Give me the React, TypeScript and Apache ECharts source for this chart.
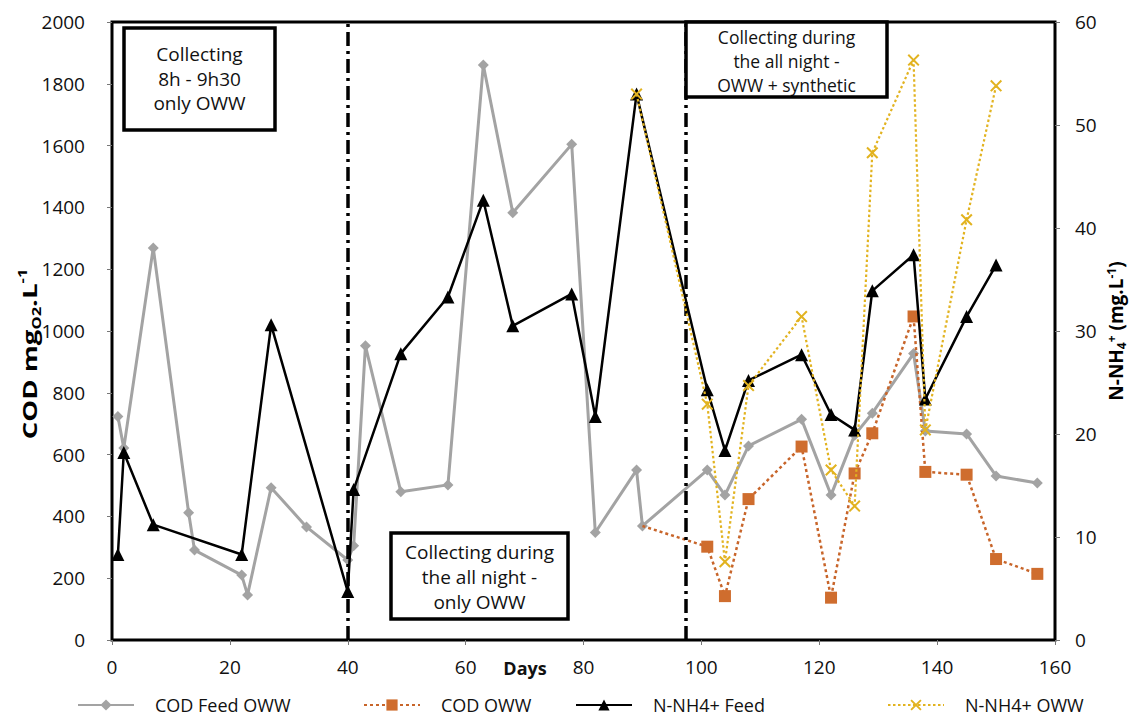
import React, { useEffect, useRef } from "react";
import * as echarts from "echarts";

const codFeedDays = [1, 2, 7, 13, 14, 22, 23, 27, 33, 40, 41, 43, 49, 57, 63, 68, 78, 82, 89, 90, 101, 104, 108, 117, 122, 126, 129, 136, 138, 145, 150, 157];
const codFeedVals = [723, 621, 1269, 412, 291, 210, 146, 493, 366, 259, 305, 952, 480, 502, 1861, 1383, 1604, 348, 550, 369, 550, 469, 628, 714, 469, 663, 734, 927, 676, 667, 531, 508];

const codOwwDays = [90, 101, 104, 108, 117, 122, 126, 129, 136, 138, 145, 150, 157];
const codOwwVals = [369, 302, 142, 456, 626, 137, 539, 669, 1047, 544, 535, 262, 214];

const nFeedDays = [1, 2, 7, 22, 27, 40, 41, 49, 57, 63, 68, 78, 82, 89, 101, 104, 108, 117, 122, 126, 129, 136, 138, 145, 150];
const nFeedVals = [8.3, 18.2, 11.2, 8.3, 30.6, 4.7, 14.6, 27.8, 33.3, 42.7, 30.5, 33.6, 21.7, 53.0, 24.3, 18.4, 25.2, 27.7, 21.9, 20.4, 33.9, 37.4, 23.4, 31.4, 36.4];

const nOwwDays = [89, 101, 104, 108, 117, 122, 126, 129, 136, 138, 145, 150];
const nOwwVals = [53.0, 22.9, 7.6, 24.7, 31.4, 16.5, 13.0, 47.3, 56.3, 20.4, 40.8, 53.8];

const phaseDays = [40, 97.3];

const seriesNames = ["COD Feed OWW", "COD OWW", "N-NH4+ Feed", "N-NH4+ OWW"];

const boxTexts = [
  "Collecting\n8h - 9h30\nonly OWW",
  "Collecting during\nthe all night -\nonly OWW",
  "Collecting during\nthe all night -\nOWW + synthetic",
];

const leftTitle = "{b|COD mg}{sub|O2}{b|.L}{sup|-1}";
const rightTitle = "{b|N-NH}{sub|4}{sup|+}{b| (mg.L}{sup|-1}{b|)}";
const xTitle = "Days";

const pair = (xs: number[], ys: number[]) => xs.map((x, i) => [x, ys[i]]);

const FONT = "'Open Sans', 'DejaVu Sans', sans-serif";
const XSYM = "path://M0,1.2 L1.2,0 L5,3.8 L8.8,0 L10,1.2 L6.2,5 L10,8.8 L8.8,10 L5,6.2 L1.2,10 L0,8.8 L3.8,5 Z";

export default function App() {
  const ref = useRef<HTMLDivElement>(null);
  useEffect(() => {
    if (!ref.current) return;
    const chart = echarts.init(ref.current, undefined, { renderer: "svg" });
    const tickLabel = { fontFamily: FONT, fontSize: 19, color: "#111", formatter: (v: number) => String(v) };
    const legendBase = {
      top: 691,
      itemWidth: 56,
      itemHeight: 14,
      textStyle: { fontFamily: FONT, fontSize: 18, color: "#111", padding: [0, 0, 0, 16] },
      selectedMode: false,
    };
    const rich = (fs: number, lh: number) => ({
      b: { fontFamily: FONT, fontSize: fs, fontWeight: "bold", color: "#111", lineHeight: lh },
      sub: { fontFamily: FONT, fontSize: Math.round(fs * 0.62), fontWeight: "bold", color: "#111", lineHeight: 12, verticalAlign: "bottom" },
      sup: { fontFamily: FONT, fontSize: Math.round(fs * 0.62), fontWeight: "bold", color: "#111", lineHeight: 12, verticalAlign: "top" },
    });
    const boxes = [
      { x: 124, y: 28, w: 151, h: 102, ty: 42, lh: 24.5, fs: 19, t: boxTexts[0] },
      { x: 391, y: 533, w: 177, h: 86, ty: 539, lh: 25, fs: 19, t: boxTexts[1] },
      { x: 686, y: 22, w: 201, h: 75, ty: 25, lh: 24, fs: 17.5, t: boxTexts[2] },
    ];
    const graphics: any[] = [];
    boxes.forEach((b) => {
      graphics.push({
        type: "rect",
        z: 10,
        shape: { x: b.x, y: b.y, width: b.w, height: b.h },
        style: { fill: "#fff", stroke: "none" },
      });
      graphics.push({
        type: "text",
        z: 11,
        x: b.x + b.w / 2,
        y: b.ty,
        style: {
          text: b.t,
          fontFamily: FONT,
          fontSize: b.fs,
          lineHeight: b.lh,
          fill: "#111",
          align: "center",
          verticalAlign: "top",
        },
      });
      graphics.push({
        type: "rect",
        z: 12,
        shape: { x: b.x, y: b.y, width: b.w, height: b.h },
        style: { fill: "none", stroke: "#000", lineWidth: 3.5 },
      });
    });
    graphics.push({
      type: "text",
      x: 525,
      y: 668,
      style: {
        text: xTitle,
        fontFamily: FONT,
        fontSize: 18,
        fontWeight: "bold",
        fill: "#111",
        align: "center",
        verticalAlign: "middle",
      },
    });
    graphics.push({
      type: "text",
      x: 29,
      y: 354,
      rotation: Math.PI / 2,
      scaleX: 1.38,
      style: {
        text: leftTitle,
        rich: rich(20, 26),
        align: "center",
        verticalAlign: "middle",
      },
    });
    graphics.push({
      type: "text",
      x: 1116,
      y: 331,
      rotation: Math.PI / 2,
      style: {
        text: rightTitle,
        rich: rich(19, 22),
        align: "center",
        verticalAlign: "middle",
      },
    });

    const codOwwData = codOwwDays.map((d, i) =>
      i === 0 ? { value: [d, codOwwVals[i]], symbol: "none" } : [d, codOwwVals[i]]
    );

    chart.setOption({
      animation: false,
      backgroundColor: "#fff",
      grid: {
        left: 112,
        right: 77,
        top: 22,
        bottom: 78,
        containLabel: false,
        outerBoundsMode: "none",
        show: true,
        borderColor: "#000",
        borderWidth: 3,
      },
      legend: [
        { ...legendBase, left: 72, data: [seriesNames[0]] },
        { ...legendBase, left: 358, data: [seriesNames[1]] },
        { ...legendBase, left: 570, data: [seriesNames[2]] },
        { ...legendBase, left: 882, data: [seriesNames[3]] },
      ],
      xAxis: {
        type: "value",
        min: 0,
        max: 160,
        interval: 20,
        splitLine: { show: false },
        axisLine: { show: true, lineStyle: { color: "#000", width: 2 } },
        axisTick: { show: true, length: 5, lineStyle: { color: "#777" } },
        axisLabel: { ...tickLabel, margin: 17 },
      },
      yAxis: [
        {
          type: "value",
          min: 0,
          max: 2000,
          interval: 200,
          splitLine: { show: false },
          axisLine: { show: true, onZero: false, lineStyle: { color: "#000", width: 2 } },
          axisTick: { show: true, length: 5, lineStyle: { color: "#777" } },
          axisLabel: { ...tickLabel, margin: 27 },
        },
        {
          type: "value",
          min: 0,
          max: 60,
          interval: 10,
          position: "right",
          splitLine: { show: false },
          axisLine: { show: true, onZero: false, lineStyle: { color: "#000", width: 2 } },
          axisTick: { show: true, length: 5, lineStyle: { color: "#777" } },
          axisLabel: { ...tickLabel, margin: 20 },
        },
      ],
      series: [
        {
          name: seriesNames[0],
          type: "line",
          yAxisIndex: 0,
          data: pair(codFeedDays, codFeedVals),
          symbol: "diamond",
          symbolSize: 11,
          itemStyle: { color: "#a3a3a3" },
          lineStyle: { color: "#a3a3a3", width: 3 },
          z: 2,
          markLine: {
            silent: true,
            symbol: ["none", "none"],
            label: { show: false },
            lineStyle: { color: "#000", width: 3.5, type: [14, 5, 3, 5] },
            data: phaseDays.map((d) => ({ xAxis: d })),
          },
        },
        {
          name: seriesNames[1],
          type: "line",
          yAxisIndex: 0,
          data: codOwwData,
          symbol: "rect",
          symbolSize: 12,
          itemStyle: { color: "#cf6d2e" },
          lineStyle: { color: "#c8652a", width: 2.5, type: [3, 3] },
          z: 3,
        },
        {
          name: seriesNames[2],
          type: "line",
          yAxisIndex: 1,
          data: pair(nFeedDays, nFeedVals),
          symbol: "triangle",
          symbolSize: 13,
          itemStyle: { color: "#000" },
          lineStyle: { color: "#000", width: 2.5 },
          z: 4,
        },
        {
          name: seriesNames[3],
          type: "line",
          yAxisIndex: 1,
          data: pair(nOwwDays, nOwwVals),
          symbol: XSYM,
          symbolSize: 12,
          itemStyle: { color: "#e2b320" },
          lineStyle: { color: "#e2b320", width: 2.2, type: [2.5, 2.5] },
          z: 5,
        },
      ],
      graphic: graphics,
    });
    return () => chart.dispose();
  }, []);
  return (
    <div
      ref={ref}
      style={{ position: "fixed", left: 0, top: 0, width: 1132, height: 718, background: "#fff" }}
    />
  );
}
